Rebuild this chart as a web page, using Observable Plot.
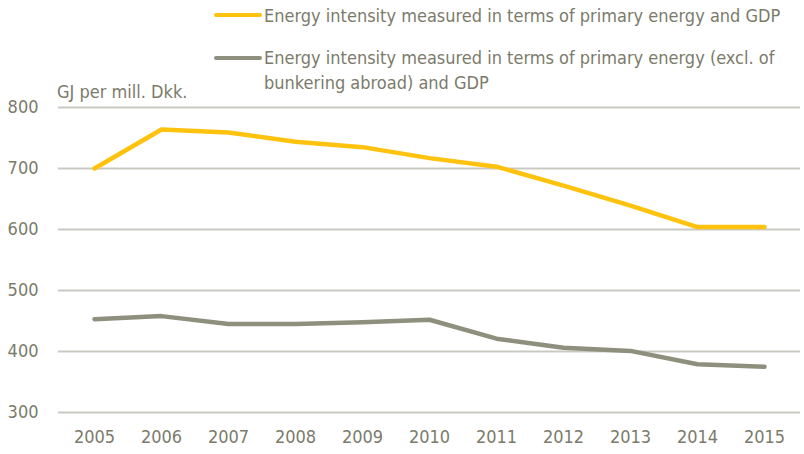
<!DOCTYPE html>
<html><head><meta charset="utf-8">
<script src="https://cdn.jsdelivr.net/npm/d3@7"></script>
<script src="https://cdn.jsdelivr.net/npm/@observablehq/plot@0.6"></script>
<style>
body{margin:0;background:#fff;}
#wrap{position:relative;width:804px;height:454px;font-family:"Liberation Sans Narrow","Arial Narrow","DejaVu Sans Condensed",sans-serif;color:#7b7b6b;}
.leg{position:absolute;font-size:18px;line-height:25px;white-space:nowrap;}
.sw{position:absolute;height:4px;border-radius:2px;}
#unit{position:absolute;left:57px;top:81px;font-size:18px;}
</style></head><body>
<div id="wrap"></div>
<script>
const years = [2005,2006,2007,2008,2009,2010,2011,2012,2013,2014,2015];
const primary = [700,764,759,744,735,717,703,672,639,604,604];
const exclBunkering = [453,458,445,445,448,452,421,406,401,379,375];
const seriesNames = ["Energy intensity measured in terms of primary energy and GDP","Energy intensity measured in terms of primary energy (excl. of bunkering abroad) and GDP"];
const colors = ["#FFC20E","#8F8F7E"];
const yTicks = [300,400,500,600,700,800];

const data = [];
years.forEach((y,i)=>{data.push({year:y,value:primary[i],s:seriesNames[0]});});
years.forEach((y,i)=>{data.push({year:y,value:exclBunkering[i],s:seriesNames[1]});});

const font = '"Liberation Sans Narrow","Arial Narrow","DejaVu Sans Condensed",sans-serif';
const chart = Plot.plot({
  width:804, height:454,
  marginTop:107, marginBottom:42, marginLeft:58, marginRight:4,
  style:{fontFamily:font,fontSize:"18px",color:"#7b7b6b",background:"#fff"},
  x:{type:"point",domain:years,padding:0.5,label:null,tickSize:0,tickPadding:18,tickFormat:d=>String(d)},
  y:{domain:[300,800],ticks:yTicks,label:null,tickSize:0,tickPadding:20},
  color:{domain:seriesNames,range:colors},
  marks:[
    Plot.gridY(yTicks,{stroke:"#c9c9c1",strokeOpacity:1,strokeWidth:2}),
    Plot.line(data,{x:"year",y:"value",z:"s",stroke:"s",strokeWidth:4.5,strokeLinecap:"round",strokeLinejoin:"round"})
  ]
});
const wrap = document.getElementById("wrap");
wrap.appendChild(chart);
const leg = [
  {top:3,sw:15,text:seriesNames[0],c:colors[0]},
  {top:45,sw:58,text:"Energy intensity measured in terms of primary energy (excl. of<br>bunkering abroad) and GDP",c:colors[1]}
];
leg.forEach(l=>{
  const s=document.createElement("div");s.className="sw";s.style.left="214px";s.style.width="48px";s.style.top=(l.sw-2)+"px";s.style.background=l.c;wrap.appendChild(s);
  const t=document.createElement("div");t.className="leg";t.style.left="264px";t.style.top=l.top+"px";t.innerHTML=l.text;wrap.appendChild(t);
});
const u=document.createElement("div");u.id="unit";u.textContent="GJ per mill. Dkk.";wrap.appendChild(u);
</script>
</body></html>
